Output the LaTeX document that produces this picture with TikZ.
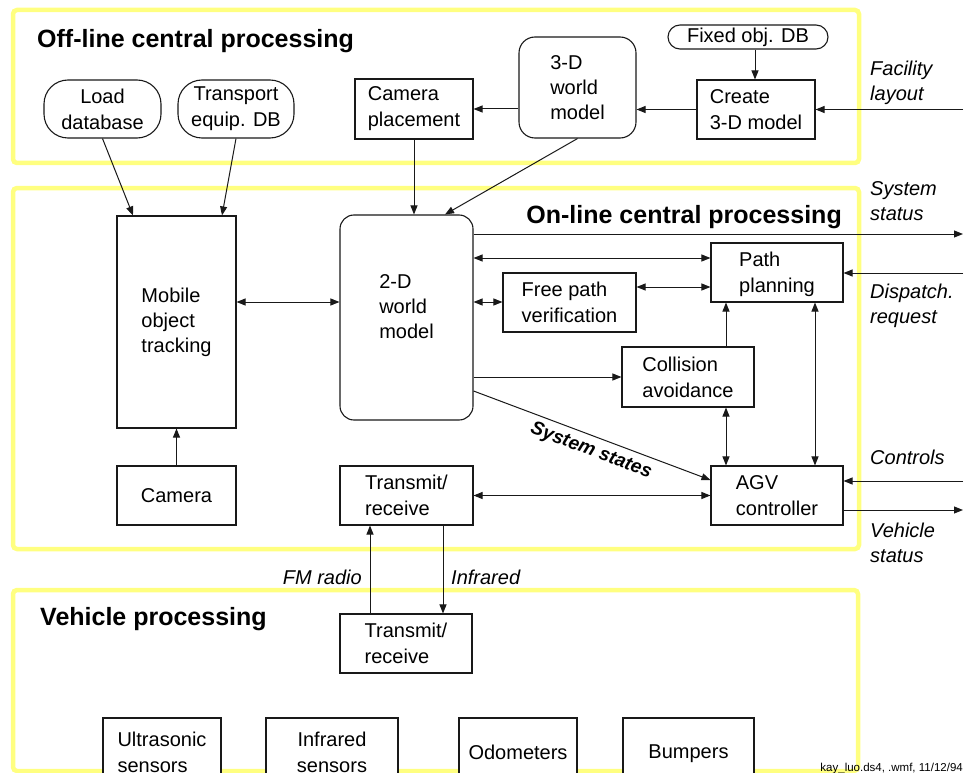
\documentclass[tikz,border=0pt]{standalone}
\usepackage{fontspec}
\setmainfont{Liberation Sans}
\usetikzlibrary{arrows.meta,calc}
\definecolor{frameyellow}{RGB}{255,255,128}
\definecolor{ink}{RGB}{25,25,25}
\begin{document}
\begin{tikzpicture}[x=1pt,y=-1pt,
  >={Triangle[length=9pt,width=7pt]},
  frame/.style={draw=frameyellow,line width=4.5pt,rounded corners=4pt},
  box/.style={draw=ink,line width=1.1pt,fill=white,inner sep=0pt,align=left,
    font=\fontsize{20}{26}\selectfont},
  rbox/.style={box,rounded corners=#1},
  conn/.style={draw=ink,line width=1pt},
  lbl/.style={font=\fontsize{20}{25}\selectfont\itshape,align=left,inner sep=0pt},
  title/.style={font=\fontsize{25}{30}\selectfont\bfseries,inner sep=0pt}]
\useasboundingbox (0,0) rectangle (964,773);
\clip (0,0) rectangle (964,773);
\fill[white] (0,0) rectangle (964,773);
% frames
\draw[frame] (13,10) rectangle (859,163);
\draw[frame] (13,188) rectangle (859,549);
\draw[frame] (13,590) rectangle (858,771);
% titles
\node[title,anchor=base west] (t1) at (37,48) {Off-line central processing};
\node[title,anchor=base east] (t2) at (842,223) {On-line central processing};
\node[title,anchor=base west] (t3) at (40,625) {Vehicle processing};
% off-line nodes
\node[rbox=24pt,minimum width=117pt,minimum height=58pt,align=center] (load) at (102.5,109) {Load\\database};
\node[rbox=24pt,minimum width=116pt,minimum height=58pt,align=center] (transp) at (236,109) {Transport\\equip. DB};
\node[box,minimum width=118pt,minimum height=60pt] (campl) at (414,109) {Camera\\placement};
\node[rbox=16pt,minimum width=117pt,minimum height=101pt,font=\fontsize{20}{25}\selectfont] (w3d) at (577.5,87.5) {3-D\\world\\model};
\node[rbox=12pt,minimum width=160pt,minimum height=24pt] (fixed) at (748,37) {Fixed obj. DB};
\node[box,minimum width=118pt,minimum height=59pt] (create) at (756,109.5) {Create\\3-D model};
% on-line nodes
\node[box,minimum width=119pt,minimum height=212pt,font=\fontsize{20}{25}\selectfont] (mobile) at (176.5,322) {Mobile\\object\\tracking};
\node[rbox=14pt,minimum width=133pt,minimum height=205pt,font=\fontsize{20}{25}\selectfont,text depth=21pt] (w2d) at (406.5,317.5) {2-D\\world\\model};
\node[box,minimum width=119pt,minimum height=59pt] (camera) at (176.5,495.5) {Camera};
\node[box,minimum width=133pt,minimum height=59pt] (trx1) at (406.5,495.5) {Transmit/\\receive};
\node[box,minimum width=132pt,minimum height=59pt,text depth=0pt] (path) at (777,272.5) {Path\\planning};
\node[box,minimum width=133pt,minimum height=59pt] (free) at (569.5,302.5) {Free path\\verification};
\node[box,minimum width=132pt,minimum height=60pt] (coll) at (688,377) {Collision\\avoidance};
\node[box,minimum width=132pt,minimum height=59pt] (agv) at (777,495.5) {AGV\\controller};
% vehicle nodes
\node[box,minimum width=132pt,minimum height=59pt] (trx2) at (406,643.5) {Transmit/\\receive};
\node[box,minimum width=118pt,minimum height=68pt] (ultra) at (162,752) {Ultrasonic\\sensors};
\node[box,minimum width=132pt,minimum height=68pt,align=center] (irsens) at (332,752) {Infrared\\sensors};
\node[box,minimum width=118pt,minimum height=68pt] (odo) at (518,752) {Odometers};
\node[box,minimum width=131pt,minimum height=68pt,text depth=0pt] (bump) at (688.5,752) {Bumpers};
% helper coordinates
\coordinate (ySys) at (0,234);
\coordinate (yPath) at (0,258);
\coordinate (yFree) at (0,302);
\coordinate (yFP) at (0,287);
\coordinate (yColl) at (0,377);
\coordinate (yStS) at (0,391);
\coordinate (yStE) at (0,480);
\coordinate (yDisp) at (0,273);
\coordinate (yCtrl) at (0,481);
\coordinate (yVeh) at (0,510);
\coordinate (xCA) at (726,0);
\coordinate (xPA) at (815,0);
\coordinate (xFM) at (370,0);
\coordinate (xIR) at (443,0);
\coordinate (eFac) at (963,109.5);
\coordinate (eSys) at (963,234);
\coordinate (eDisp) at (963,273);
\coordinate (eCtrl) at (963,481);
\coordinate (eVeh) at (963,510);
% connectors
\draw[conn,->] (load.south) -- ($(mobile.north)+(-43.5,0)$);
\draw[conn,->] (transp.south) -- ($(mobile.north)+(45.5,0)$);
\draw[conn,->] (campl.south) -- (campl.south |- w2d.north);
\draw[conn,->] (w3d.south) -- ($(w2d.north)+(38.5,0)$);
\draw[conn,->] ($(create.north |- fixed.south)+(-1,0)$) -- ($(create.north)+(-1,0)$);
\draw[conn,->] (create.west |- eFac) -- (w3d.east |- eFac);
\draw[conn,->] (campl.east -| w3d.west) -- (campl.east);
\draw[conn,->] (eFac) -- (create.east);
\draw[conn,<->] (mobile.east |- yFree) -- (w2d.west |- yFree);
\draw[conn,->] (camera.north) -- (mobile.south);
\draw[conn,->] (w2d.east |- ySys) -- (eSys);
\draw[conn,<->] (w2d.east |- yPath) -- (path.west |- yPath);
\draw[conn,<->] (w2d.east |- yFree) -- (free.west |- yFree);
\draw[conn,<->] (free.east |- yFP) -- (path.west |- yFP);
\draw[conn,->] (w2d.east |- yColl) -- (coll.west);
\draw[conn,->] (coll.north -| xCA) -- (path.south -| xCA);
\draw[conn,<->] (coll.south -| xCA) -- (agv.north -| xCA);
\draw[conn,<->] (path.south -| xPA) -- (agv.north -| xPA);
\draw[conn,->] (w2d.east |- yStS) -- (agv.west |- yStE);
\draw[conn,<->] (trx1.east) -- (agv.west);
\draw[conn,->] (eDisp) -- (path.east |- yDisp);
\draw[conn,->] (eCtrl) -- (agv.east |- yCtrl);
\draw[conn,->] (agv.east |- yVeh) -- (eVeh);
\draw[conn,->] (trx2.north -| xFM) -- (trx1.south -| xFM);
\draw[conn,->] (trx1.south -| xIR) -- (trx2.north -| xIR);
% labels
\node[lbl,anchor=west] (lfac) at (870,82.5) {Facility\\layout};
\node[lbl,anchor=west] (lsys) at (870,201) {System\\status};
\node[lbl,anchor=west] (ldisp) at (870,305.5) {Dispatch.\\request};
\node[lbl,anchor=west] (lctrl) at (870,457) {Controls};
\node[lbl,anchor=west] (lveh) at (870,542.5) {Vehicle\\status};
\node[lbl,anchor=east] (lfm) at (362,577) {FM radio};
\node[lbl,anchor=west] (lir) at (451,577) {Infrared};
\node[inner sep=0pt,rotate=-20.5,font=\fontsize{19}{23}\selectfont\bfseries\itshape] (lss) at (591,451) {System states};
\node[inner sep=0pt,anchor=base east,font=\fontsize{11.5}{13}\selectfont] (foot) at (963,771) {kay\_luo.ds4, .wmf, 11/12/94};
\end{tikzpicture}
\end{document}
